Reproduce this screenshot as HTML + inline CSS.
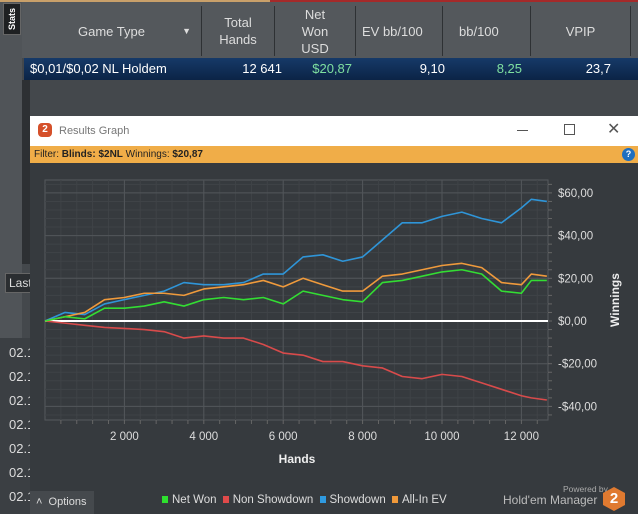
<!DOCTYPE html>
<html><head><meta charset="utf-8"><style>
*{margin:0;padding:0;box-sizing:border-box}
body{width:638px;height:514px;overflow:hidden;background:#44484c;font-family:"Liberation Sans",sans-serif;position:relative;color:#ddd}
.abs{position:absolute}
.hd{position:absolute;top:6px;height:50px;display:flex;align-items:center;justify-content:center;text-align:center;font-size:13px;color:#ddd;line-height:17px;border-right:1px solid #2e3134}
.cell{position:absolute;top:58px;height:22px;line-height:22px;font-size:13px;color:#fff;text-align:right}
</style></head><body>
<div class="abs" style="left:0;top:0;width:270px;height:2px;background:#c9a06a"></div>
<div class="abs" style="left:270px;top:0;width:368px;height:2px;background:#a52a2a"></div>
<div class="abs" style="left:0;top:2px;width:22px;height:512px;background:#505458"></div>
<div class="abs" style="left:3px;top:3px;width:18px;height:32px;background:#1e2022;border:1px solid #666;color:#fff;font-size:9px;font-weight:bold;writing-mode:vertical-rl;transform:rotate(180deg);text-align:center;line-height:16px">Stats</div>
<div class="abs" style="left:22px;top:2px;width:616px;height:56px;background:#54585c"></div>
<div class="hd" style="left:22px;width:180px">Game Type<span style="position:absolute;right:10px;font-size:9px">▼</span></div>
<div class="hd" style="left:202px;width:73px">Total<br>Hands</div>
<div class="hd" style="left:275px;width:81px">Net<br>Won<br>USD</div>
<div class="hd" style="left:356px;width:87px;justify-content:flex-start;padding-left:6px">EV bb/100</div>
<div class="hd" style="left:443px;width:88px;justify-content:flex-start;padding-left:16px">bb/100</div>
<div class="hd" style="left:531px;width:100px">VPIP</div>
<div class="abs" style="left:24px;top:58px;width:614px;height:22px;background:linear-gradient(#163a68,#0b2446)"></div>
<div class="cell" style="left:30px;text-align:left">$0,01/$0,02 NL Holdem</div>
<div class="cell" style="left:200px;width:82px">12 641</div>
<div class="cell" style="left:280px;width:72px;color:#7fe0a0">$20,87</div>
<div class="cell" style="left:360px;width:85px">9,10</div>
<div class="cell" style="left:440px;width:82px;color:#7fe0a0">8,25</div>
<div class="cell" style="left:530px;width:81px">23,7</div>
<div class="abs" style="left:22px;top:80px;width:8px;height:184px;background:#2d3033"></div>
<div class="abs" style="left:5px;top:273px;width:30px;height:20px;background:#2b2e31;border:1px solid #666;font-size:12px;line-height:18px;padding-left:3px;color:#ddd">Last</div>
<div class="abs" style="left:0;top:338px;width:30px;height:176px;background:#3b3f43;font-size:13px;color:#ddd;line-height:24px;padding-left:9px;padding-top:3px;overflow:hidden;white-space:nowrap">02.1<br>02.1<br>02.1<br>02.1<br>02.1<br>02.1<br>02.1</div>
<div class="abs" style="left:30px;top:116px;width:608px;height:398px;background:#363a3e"></div>
<div class="abs" style="left:30px;top:116px;width:608px;height:30px;background:#fff;color:#777;font-size:11px;line-height:30px;padding-left:29px">Results Graph</div>
<div class="abs" style="left:38px;top:123px;width:14px;height:14px;border-radius:4px;background:#d5502a;color:#fff;font-size:10px;font-weight:bold;text-align:center;line-height:14px">2</div>
<div class="abs" style="left:517px;top:130px;width:11px;height:1px;background:#555"></div>
<div class="abs" style="left:564px;top:124px;width:11px;height:11px;border:1px solid #555"></div>
<div class="abs" style="left:607px;top:120px;font-size:16px;color:#555;line-height:20px">✕</div>
<div class="abs" style="left:30px;top:146px;width:608px;height:17px;background:#f0ad48;color:#222;font-size:10px;line-height:17px;padding-left:4px">Filter: <b>Blinds: $2NL</b> Winnings: <b>$20,87</b></div>
<div class="abs" style="left:622px;top:148px;width:13px;height:13px;border-radius:50%;background:#1f6fc0;color:#fff;font-size:9px;font-weight:bold;text-align:center;line-height:13px">?</div>
<svg class="abs" style="left:0;top:0" width="638" height="514" id="chart"></svg>
<div class="abs" style="left:30px;top:491px;width:64px;height:23px;background:#45494d;font-size:11px;line-height:23px;color:#ddd;padding-left:6px">˄&nbsp;&nbsp;Options</div>
<div class="abs" style="left:162px;top:494px;font-size:11.5px;color:#ddd;white-space:nowrap">
<span><span style="display:inline-block;width:6px;height:7px;background:#2ee02e;margin-right:4px"></span>Net Won</span>
<span style="margin-left:3px"><span style="display:inline-block;width:6px;height:7px;background:#e04a4a;margin-right:4px"></span>Non Showdown</span>
<span style="margin-left:3px"><span style="display:inline-block;width:6px;height:7px;background:#2f9ae0;margin-right:4px"></span>Showdown</span>
<span style="margin-left:3px"><span style="display:inline-block;width:6px;height:7px;background:#f0993a;margin-right:4px"></span>All-In EV</span>
</div>
<div class="abs" style="left:563px;top:484px;font-size:8.5px;color:#aaa">Powered by</div>
<div class="abs" style="left:503px;top:493px;font-size:12px;color:#bbb">Hold'em Manager</div>
<div class="abs" style="left:603px;top:487px;width:22px;height:24px;background:#e07a30;clip-path:polygon(50% 0,100% 25%,100% 75%,50% 100%,0 75%,0 25%);color:#fff;font-weight:bold;font-size:15px;text-align:center;line-height:24px">2</div>
<script>
const hands=[0,500,1000,1500,2000,2500,3000,3500,4000,4500,5000,5500,6000,6500,7000,7500,8000,8500,9000,9500,10000,10500,11000,11500,12000,12250,12641];
const netWon=[0,2,1,6,6,7,9,7,10,11,10,11,8,14,12,10,9,18,19,21,23,24,22,14,13,19,19];
const nonShowdown=[0,-1,-2,-3,-3.5,-4,-5,-8,-7,-8,-8,-11,-15,-16,-19,-19,-21,-22,-26,-27,-25,-26,-29,-32,-35,-36,-37];
const showdown=[0,4,3,8,10,12,14,18,17,17,18,22,22,30,31,28,30,38,46,46,49,51,48,46,53,57,56];
const allInEv=[0,2,4,10,11,13,13,12,15,16,17,19,16,20,17,14,14,21,22,24,26,27,25,18,17,22,21];
const xTicks=[2000,4000,6000,8000,10000,12000];
const xTickLabels=["2 000","4 000","6 000","8 000","10 000","12 000"];
const yTicks=[60,40,20,0,-20,-40];
const yTickLabels=["$60,00","$40,00","$20,00","$0,00","-$20,00","-$40,00"];
const L=45,R=548,T=180,B=420;
function xs(h){return 45+h*(79.4/2000);}
function ys(v){return 321-v*(42.7/20);}
const svg=document.getElementById('chart');const NS='http://www.w3.org/2000/svg';
function mk(tag,attrs){const e=document.createElementNS(NS,tag);for(const k in attrs)e.setAttribute(k,attrs[k]);svg.appendChild(e);return e;}
const bg=mk('rect',{x:L,y:T,width:R-L,height:B-T,fill:'#363a3e',stroke:'#55595d'});


for(let h=400;h<12800;h+=400){const g=mk('line',{x1:xs(h),x2:xs(h),y1:T,y2:B,stroke:'#3f4347'});


const t=mk('line',{x1:xs(h),x2:xs(h),y1:B,y2:B+4,stroke:'#666'});

}
for(let v=-44;v<=64;v+=4){const g=mk('line',{x1:L,x2:R,y1:ys(v),y2:ys(v),stroke:'#3f4347'});


const t=mk('line',{x1:R,x2:R+4,y1:ys(v),y2:ys(v),stroke:'#666'});

}
xTicks.forEach((h,i)=>{const g=mk('line',{x1:xs(h),x2:xs(h),y1:T,y2:B,stroke:'#52565a'});


const t=mk('text',{x:xs(h),y:440,fill:'#ddd','font-size':11.5,'text-anchor':'middle','font-family':'Liberation Sans'});t.textContent=xTickLabels[i];

});
yTicks.forEach((v,i)=>{const g=mk('line',{x1:L,x2:R,y1:ys(v),y2:ys(v),stroke:'#52565a'});


const t=mk('text',{x:558,y:ys(v)+4,fill:'#ddd','font-size':11.5,'font-family':'Liberation Sans'});t.textContent=yTickLabels[i];

});
const zl=mk('line',{x1:L,x2:R,y1:ys(0),y2:ys(0),stroke:'#fff','stroke-width':2});


function series(arr,color,name){const p=mk('polyline',{points:arr.map((v,i)=>xs(hands[i])+','+ys(v)).join(' '),fill:'none',stroke:color,'stroke-width':1.6,'stroke-linejoin':'round'});

}
series(nonShowdown,'#d84b4b','non-showdown-line');
series(showdown,'#2f95d8','showdown-line');
series(allInEv,'#ef9a3c','all-in-ev-line');
series(netWon,'#33dd33','net-won-line');
const xt=mk('text',{x:297,y:463,fill:'#eee','font-size':12,'font-weight':'bold','text-anchor':'middle','font-family':'Liberation Sans'});xt.textContent='Hands';


const yt=mk('text',{x:619,y:300,fill:'#eee','font-size':12,'font-weight':'bold','text-anchor':'middle','font-family':'Liberation Sans',transform:'rotate(-90 619 300)'});yt.textContent='Winnings';


</script>
</body></html>
